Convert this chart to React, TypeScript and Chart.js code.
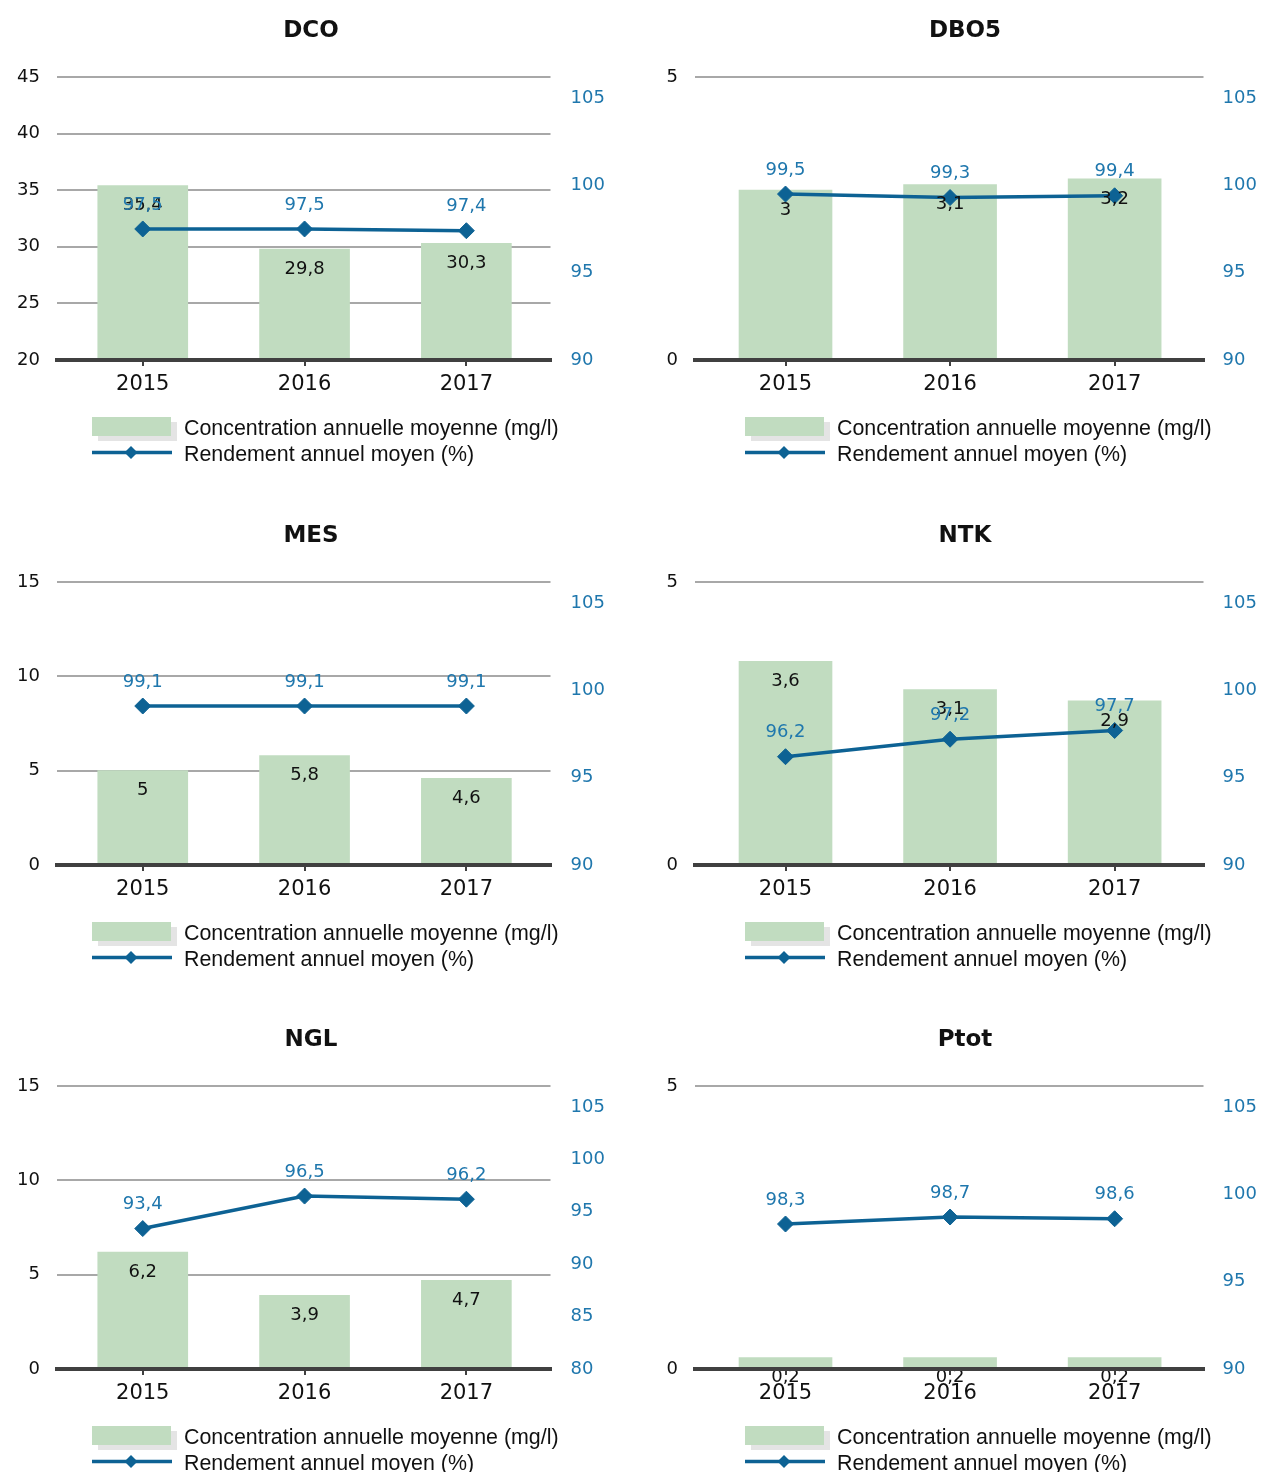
import React, { useEffect, useRef } from "react";
import { Chart, registerables } from "chart.js";

Chart.register(...registerables);

// ---------- data ----------
const years = ["2015", "2016", "2017"];
const concLabel = "Concentration annuelle moyenne (mg/l)";
const rendLabel = "Rendement annuel moyen (%)";

const dcoConc = [35.4, 29.8, 30.3];
const dcoRend = [97.5, 97.5, 97.4];
const dbo5Conc = [3, 3.1, 3.2];
const dbo5Rend = [99.5, 99.3, 99.4];
const mesConc = [5, 5.8, 4.6];
const mesRend = [99.1, 99.1, 99.1];
const ntkConc = [3.6, 3.1, 2.9];
const ntkRend = [96.2, 97.2, 97.7];
const nglConc = [6.2, 3.9, 4.7];
const nglRend = [93.4, 96.5, 96.2];
const ptotConc = [0.2, 0.2, 0.2];
const ptotRend = [98.3, 98.7, 98.6];

// axis ranges: [min, max, step]
const dcoConcAxis = [20, 45, 5];
const lowConcAxis = [0, 5, 5];
const midConcAxis = [0, 15, 5];
const rendAxis = [90, 106.2, 5];
const nglRendAxis = [80, 107, 5];

const panels = [
  { title: "DCO", conc: dcoConc, rend: dcoRend, cAxis: dcoConcAxis, rAxis: rendAxis },
  { title: "DBO5", conc: dbo5Conc, rend: dbo5Rend, cAxis: lowConcAxis, rAxis: rendAxis },
  { title: "MES", conc: mesConc, rend: mesRend, cAxis: midConcAxis, rAxis: rendAxis },
  { title: "NTK", conc: ntkConc, rend: ntkRend, cAxis: lowConcAxis, rAxis: rendAxis },
  { title: "NGL", conc: nglConc, rend: nglRend, cAxis: midConcAxis, rAxis: nglRendAxis },
  { title: "Ptot", conc: ptotConc, rend: ptotRend, cAxis: lowConcAxis, rAxis: rendAxis },
];

// ---------- styling / layout ----------
const GREEN = "#c1dcc0";
const LINE_BLUE = "#0d6294";
const LABEL_BLUE = "#1f77ad";
const GRID = "#a8a8a8";
const TEXT = "#111111";
const FONT = '"DejaVu Sans", Verdana, sans-serif';
const LEGEND_FONT = '"Liberation Sans", Arial, sans-serif';

const COLS = [
  { left: 0, width: 632, areaLeft: 57, areaRight: 550.5, xMin: -0.53, xMax: 2.52, bar: 90, rightPad: 20, titleX: 311, legendX: 92 },
  { left: 632, width: 632, areaLeft: 63, areaRight: 571.5, xMin: -0.55, xMax: 2.54, bar: 93, rightPad: 19, titleX: 333, legendX: 113 },
];
const ROW_TOPS = [0, 505, 1009];
const PLOT_TOP = 77;
const PLOT_BOTTOM = 360;
const X_AXIS_H = 40;

Chart.defaults.font.family = FONT;
Chart.defaults.color = TEXT;

const fmt = (v: number) => String(v).replace(".", ",");

const valueLabels = {
  id: "valueLabels",
  afterDatasetsDraw(chart: any) {
    const ctx = chart.ctx;
    ctx.save();
    ctx.font = `18px ${FONT}`;
    ctx.textAlign = "center";
    ctx.textBaseline = "middle";
    const barMeta = chart.getDatasetMeta(0);
    const barData = chart.data.datasets[0].data;
    ctx.fillStyle = TEXT;
    barMeta.data.forEach((el: any, i: number) => {
      ctx.fillText(fmt(barData[i].y), el.x, el.y + 20);
    });
    const lineMeta = chart.getDatasetMeta(1);
    const lineData = chart.data.datasets[1].data;
    ctx.fillStyle = LABEL_BLUE;
    lineMeta.data.forEach((el: any, i: number) => {
      ctx.fillText(fmt(lineData[i].y), el.x, el.y - 24);
    });
    ctx.restore();
  },
};

function makeDecor(title: string, col: any) {
  return {
    id: "decor",
    afterDraw(chart: any) {
      const ctx = chart.ctx;
      ctx.save();
      // title
      ctx.font = `bold 23px ${FONT}`;
      ctx.fillStyle = TEXT;
      ctx.textAlign = "center";
      ctx.textBaseline = "middle";
      ctx.fillText(title, col.titleX, 31);
      // legend
      const lx = col.legendX;
      ctx.fillStyle = "#e4e4e4";
      ctx.fillRect(lx + 6, 422, 79, 19);
      ctx.fillStyle = GREEN;
      ctx.fillRect(lx, 417, 79, 19);
      ctx.strokeStyle = LINE_BLUE;
      ctx.lineWidth = 3.5;
      ctx.beginPath();
      ctx.moveTo(lx, 452.5);
      ctx.lineTo(lx + 80, 452.5);
      ctx.stroke();
      const dx = lx + 39;
      const dy = 452.5;
      const r = 6.5;
      ctx.fillStyle = LINE_BLUE;
      ctx.beginPath();
      ctx.moveTo(dx - r, dy);
      ctx.lineTo(dx, dy - r);
      ctx.lineTo(dx + r, dy);
      ctx.lineTo(dx, dy + r);
      ctx.closePath();
      ctx.fill();
      ctx.font = `21.4px ${LEGEND_FONT}`;
      ctx.fillStyle = TEXT;
      ctx.textAlign = "left";
      ctx.fillText(chart.data.datasets[0].label, lx + 92, 429);
      ctx.fillText(chart.data.datasets[1].label, lx + 92, 455);
      ctx.restore();
    },
  };
}

function Panel({ index }: { index: number }) {
  const ref = useRef<HTMLCanvasElement>(null);
  const p = panels[index];
  const col = COLS[index % 2];
  const top = ROW_TOPS[Math.floor(index / 2)];
  const height = Math.min(505, 1472 - top);

  useEffect(() => {
    const [cMin, cMax, cStep] = p.cAxis;
    const [rMin, rMax, rStep] = p.rAxis;
    const chart = new Chart(ref.current as HTMLCanvasElement, {
      type: "bar",
      data: {
        datasets: [
          {
            type: "bar",
            label: concLabel,
            data: p.conc.map((v, i) => ({ x: i, y: v })),
            backgroundColor: GREEN,
            borderWidth: 0,
            barThickness: col.bar,
            xAxisID: "x",
            yAxisID: "y",
            order: 1,
          } as any,
          {
            type: "line",
            label: rendLabel,
            data: p.rend.map((v, i) => ({ x: i, y: v })),
            borderColor: LINE_BLUE,
            backgroundColor: LINE_BLUE,
            borderWidth: 3.5,
            pointStyle: "rectRot",
            pointRadius: 8,
            pointBorderWidth: 1,
            pointBackgroundColor: LINE_BLUE,
            pointBorderColor: LINE_BLUE,
            tension: 0,
            xAxisID: "x",
            yAxisID: "y1",
            order: 0,
          } as any,
        ],
      },
      options: {
        responsive: false,
        animation: false,
        events: [],
        layout: {
          padding: { top: PLOT_TOP, bottom: height - PLOT_BOTTOM - X_AXIS_H, left: 0, right: 0 },
        },
        plugins: {
          legend: { display: false },
          title: { display: false },
          tooltip: { enabled: false },
        },
        scales: {
          x: {
            type: "linear",
            position: "bottom",
            offset: false,
            min: col.xMin,
            max: col.xMax,
            afterBuildTicks: (s: any) => {
              s.ticks = years.map((_, i) => ({ value: i }));
            },
            afterFit: (s: any) => {
              s.height = X_AXIS_H;
            },
            ticks: {
              callback: (v: any) => years[Math.round(Number(v))],
              font: { size: 21, family: FONT },
              color: TEXT,
              padding: 6,
              autoSkip: false,
              maxRotation: 0,
              minRotation: 0,
            },
            grid: {
              offset: false,
              drawOnChartArea: false,
              drawTicks: true,
              tickLength: 6,
              color: "#404040",
              lineWidth: 2,
            },
            border: { display: true, color: "#404040", width: 4, z: 1 },
          } as any,
          y: {
            type: "linear",
            position: "left",
            min: cMin,
            max: cMax,
            afterFit: (s: any) => {
              s.width = col.areaLeft;
            },
            ticks: {
              stepSize: cStep,
              font: { size: 18, family: FONT },
              color: TEXT,
              padding: 17,
              callback: (v: any) => String(v),
            },
            grid: {
              color: (c: any) => (c.tick && c.tick.value === cMin ? "rgba(0,0,0,0)" : GRID),
              lineWidth: 2,
              drawTicks: false,
            },
            border: { display: false },
          } as any,
          y1: {
            type: "linear",
            position: "right",
            min: rMin,
            max: rMax,
            afterBuildTicks: (s: any) => {
              s.ticks = s.ticks.filter((t: any) => Math.abs(t.value / rStep - Math.round(t.value / rStep)) < 1e-6);
            },
            afterFit: (s: any) => {
              s.width = col.width - col.areaRight;
            },
            ticks: {
              stepSize: rStep,
              includeBounds: false,
              font: { size: 18, family: FONT },
              color: LABEL_BLUE,
              padding: col.rightPad,
              callback: (v: any) => String(v),
            },
            grid: { drawOnChartArea: false, drawTicks: false },
            border: { display: false },
          } as any,
        },
      } as any,
      plugins: [valueLabels, makeDecor(p.title, col)],
    });
    return () => chart.destroy();
  }, []);

  return (
    <canvas
      ref={ref}
      width={col.width}
      height={height}
      style={{ position: "absolute", left: col.left, top, width: col.width, height }}
    />
  );
}

export default function App() {
  return (
    <div style={{ position: "relative", width: 1264, height: 1472, background: "#ffffff", overflow: "hidden" }}>
      <style>{"body{margin:0;background:#fff}"}</style>
      {panels.map((_, i) => (
        <Panel key={i} index={i} />
      ))}
    </div>
  );
}
